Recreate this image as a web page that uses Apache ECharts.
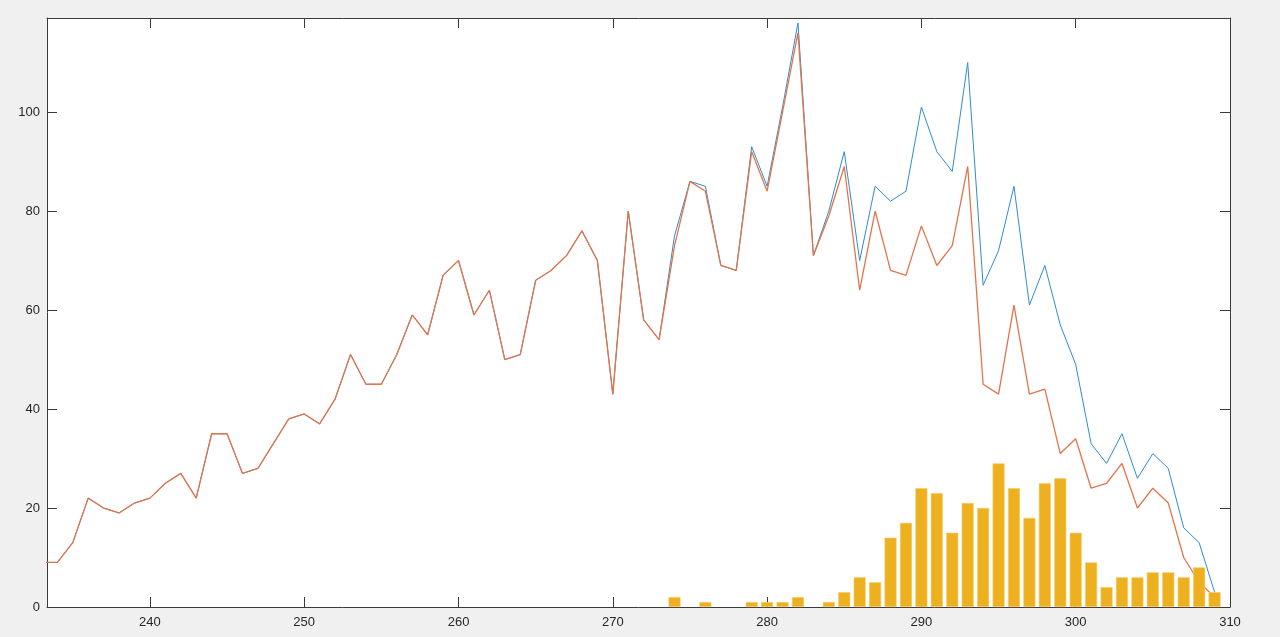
<!DOCTYPE html>
<html>
<head>
<meta charset="utf-8">
<script src="https://cdn.jsdelivr.net/npm/echarts@6/dist/echarts.min.js"></script>
<style>
html,body{margin:0;padding:0;background:#f0f0f0;}
#chart{width:1280px;height:637px;}
</style>
</head>
<body>
<div id="chart"></div>
<script>
// x positions for the two lines (233..309)
var lineX = [233,234,235,236,237,238,239,240,241,242,243,244,245,246,247,248,249,250,251,252,253,254,255,256,257,258,259,260,261,262,263,264,265,266,267,268,269,270,271,272,273,274,275,276,277,278,279,280,281,282,283,284,285,286,287,288,289,290,291,292,293,294,295,296,297,298,299,300,301,302,303,304,305,306,307,308,309];
var blueValues = [9,9,13,22,20,19,21,22,25,27,22,35,35,27,28,33,38,39,37,42,51,45,45,51,59,55,67,70,59,64,50,51,66,68,71,76,70,43,80,58,54,75,86,85,69,68,93,85,101,118,71,80,92,70,85,82,84,101,92,88,110,65,72,85,61,69,57,49,33,29,35,26,31,28,16,13,3];
var orangeValues = [9,9,13,22,20,19,21,22,25,27,22,35,35,27,28,33,38,39,37,42,51,45,45,51,59,55,67,70,59,64,50,51,66,68,71,76,70,43,80,58,54,73,86,84,69,68,92,84,100,116,71,79,89,64,80,68,67,77,69,73,89,45,43,61,43,44,31,34,24,25,29,20,24,21,10,5,2];
var barX = [274,276,279,280,281,282,284,285,286,287,288,289,290,291,292,293,294,295,296,297,298,299,300,301,302,303,304,305,306,307,308,309];
var barValues = [2,1,1,1,1,2,1,3,6,5,14,17,24,23,15,21,20,29,24,18,25,26,15,9,4,6,6,7,7,6,8,3];
var xTicks = [240,250,260,270,280,290,300,310];
var yTicks = [0,20,40,60,80,100];

function pairs(xs, ys){ return xs.map(function(x,i){ return [x, ys[i]]; }); }

var axisColor = '#3a3a3a';
var labelStyle = {color:'#262626', fontSize:13, fontFamily:'"Liberation Sans", Arial, sans-serif'};

var chart = echarts.init(document.getElementById('chart'), null, {renderer:'canvas'});
chart.setOption({
  backgroundColor:'#f0f0f0',
  animation:false,
  grid:{left:47, right:50, top:18, bottom:30, show:true, backgroundColor:'#ffffff', borderWidth:0},
  xAxis:[{
    type:'value', min:233.33, max:310, position:'bottom',
    axisLine:{show:true, onZero:false, lineStyle:{color:axisColor, width:1}},
    axisTick:{show:true, inside:true, length:10, customValues:xTicks, lineStyle:{color:axisColor}},
    axisLabel:Object.assign({show:true, margin:9, customValues:xTicks}, labelStyle),
    splitLine:{show:false}
  },{
    type:'value', min:233.33, max:310, position:'top',
    axisLine:{show:true, onZero:false, lineStyle:{color:axisColor, width:1}},
    axisTick:{show:true, inside:true, length:10, customValues:xTicks, lineStyle:{color:axisColor}},
    axisLabel:{show:false},
    splitLine:{show:false}
  }],
  yAxis:[{
    type:'value', min:0, max:119, position:'left',
    axisLine:{show:true, onZero:false, lineStyle:{color:axisColor, width:1}},
    axisTick:{show:true, inside:true, length:10, customValues:yTicks, lineStyle:{color:axisColor}},
    axisLabel:Object.assign({show:true, margin:7, customValues:yTicks}, labelStyle),
    splitLine:{show:false}
  },{
    type:'value', min:0, max:119, position:'right',
    axisLine:{show:true, onZero:false, lineStyle:{color:axisColor, width:1}},
    axisTick:{show:true, inside:true, length:10, customValues:yTicks, lineStyle:{color:axisColor}},
    axisLabel:{show:false},
    splitLine:{show:false}
  }],
  series:[{
    type:'line', xAxisIndex:0, yAxisIndex:0,
    data:pairs(lineX, blueValues),
    showSymbol:false, symbol:'none',
    lineStyle:{color:'#2F8BD0', width:1},
    itemStyle:{color:'#2F8BD0'}, clip:true, z:2
  },{
    type:'line', xAxisIndex:0, yAxisIndex:0,
    data:pairs(lineX, orangeValues),
    showSymbol:false, symbol:'none',
    lineStyle:{color:'#E3744A', width:1.3},
    itemStyle:{color:'#E3744A'}, clip:true, z:3
  },{
    type:'bar', xAxisIndex:0, yAxisIndex:0,
    data:pairs(barX, barValues),
    barWidth:12,
    itemStyle:{color:'#EDB120', borderColor:'#F3CB6A', borderWidth:0.6},
    clip:true, z:4
  }]
});
</script>
</body>
</html>
